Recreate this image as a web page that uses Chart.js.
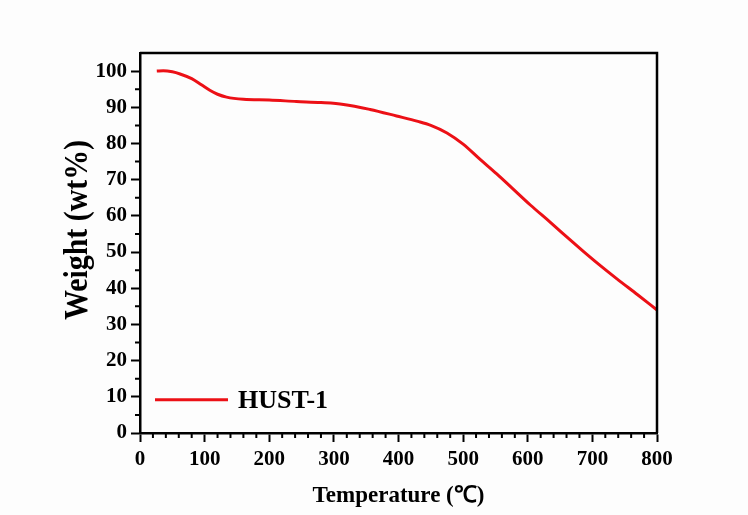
<!DOCTYPE html>
<html>
<head>
<meta charset="utf-8">
<script src="https://cdn.jsdelivr.net/npm/chart.js@4.4.0/dist/chart.umd.min.js"></script>
<style>
    html, body { margin: 0; padding: 0; background: #fdfdfd; }
    #wrap { width: 748px; height: 515px; }
</style>
</head>
<body>
<div id="wrap"><canvas id="tga-chart" width="748" height="515"></canvas></div>
<script>
// TGA curve of HUST-1
const seriesLabel = 'HUST-1';
const temperature = [26, 36, 50, 62, 80, 95, 108, 120, 134, 160, 200, 242, 280, 315, 356, 397, 430, 450, 475, 500, 525, 552, 575, 604, 635, 655, 686, 710, 738, 770, 800];
const weight = [100.0, 100.1, 99.8, 99.2, 97.9, 96.2, 94.7, 93.6, 92.8, 92.2, 92.0, 91.6, 91.3, 90.8, 89.4, 87.6, 86.1, 85.0, 82.9, 79.8, 75.8, 71.6, 67.8, 63.0, 58.2, 55.0, 50.2, 46.6, 42.6, 38.2, 34.0];

const xTicks = [0, 100, 200, 300, 400, 500, 600, 700, 800];
const yTicks = [0, 10, 20, 30, 40, 50, 60, 70, 80, 90, 100];
const yTitle = 'Weight (wt%)';

const serif = "'Liberation Serif', 'Times New Roman', serif";
const lineColor = '#ec1016';

/**
 * Draws the box frame, minor ticks, y title and the legend inside the plot
 */
const framePlugin = {
    id: 'frame',
    afterDraw(chart) {
        const ctx = chart.ctx;
        const area = chart.chartArea;
        const x = chart.scales.x;
        const y = chart.scales.y;

        ctx.save();
        ctx.strokeStyle = '#000';
        ctx.lineWidth = 2.5;

        // top and right side of the box
        ctx.beginPath();
        ctx.moveTo(area.left, area.top);
        ctx.lineTo(area.right, area.top);
        ctx.lineTo(area.right, area.bottom);
        ctx.stroke();

        // minor ticks
        ctx.lineWidth = 2;
        ctx.beginPath();
        for (let v = 20; v < 800; v += 20) {
            if (v % 100 === 0) continue;
            const px = x.getPixelForValue(v);
            ctx.moveTo(px, area.bottom);
            ctx.lineTo(px, area.bottom + 5);
        }
        for (let v = 5; v < 105; v += 10) {
            const py = y.getPixelForValue(v);
            ctx.moveTo(area.left, py);
            ctx.lineTo(area.left - 5, py);
        }
        ctx.stroke();

        // y axis title (slightly condensed like the original)
        ctx.fillStyle = '#000';
        ctx.font = "bold 34px " + serif;
        ctx.textAlign = 'center';
        ctx.textBaseline = 'middle';
        const w = ctx.measureText(yTitle).width;
        ctx.save();
        ctx.translate(78, 230);
        ctx.rotate(-Math.PI / 2);
        ctx.scale(180 / w, 1);
        ctx.fillText(yTitle, 0, 0);
        ctx.restore();

        // legend
        const ly = y.getPixelForValue(9.2);
        ctx.strokeStyle = lineColor;
        ctx.lineWidth = 3;
        ctx.beginPath();
        ctx.moveTo(area.left + 15, ly);
        ctx.lineTo(area.left + 88, ly);
        ctx.stroke();
        ctx.font = "bold 26px " + serif;
        ctx.textAlign = 'left';
        ctx.fillText(seriesLabel, area.left + 98, ly + 2);
        ctx.restore();
    }
};

new Chart(document.getElementById('tga-chart'), {
    type: 'line',
    data: {
        datasets: [{
            label: seriesLabel,
            data: temperature.map((t, i) => ({ x: t, y: weight[i] })),
            borderColor: lineColor,
            borderWidth: 3,
            pointRadius: 0,
            fill: false,
            cubicInterpolationMode: 'monotone'
        }]
    },
    options: {
        responsive: false,
        animation: false,
        layout: {
            padding: { top: 53, right: 91, left: 0, bottom: 0 }
        },
        plugins: {
            legend: { display: false },
            tooltip: { enabled: false }
        },
        scales: {
            x: {
                type: 'linear',
                min: 0,
                max: 800,
                afterFit: function(scale) { scale.height = 82; },
                afterBuildTicks: function(scale) {
                    scale.ticks = xTicks.map(v => ({ value: v }));
                },
                grid: {
                    drawOnChartArea: false,
                    drawTicks: true,
                    tickLength: 9,
                    tickWidth: 2,
                    tickColor: '#000'
                },
                border: { color: '#000', width: 2.5 },
                ticks: {
                    color: '#000',
                    padding: 5,
                    maxRotation: 0,
                    font: { family: serif, size: 21, weight: 'bold' }
                },
                title: {
                    display: true,
                    text: 'Temperature (℃)',
                    color: '#000',
                    padding: { top: 0, bottom: 5 },
                    font: { family: serif, size: 23, weight: 'bold' }
                }
            },
            y: {
                type: 'linear',
                min: 0,
                max: 105,
                afterFit: function(scale) { scale.width = 140; },
                afterBuildTicks: function(scale) {
                    scale.ticks = yTicks.map(v => ({ value: v }));
                },
                grid: {
                    drawOnChartArea: false,
                    drawTicks: true,
                    tickLength: 9,
                    tickWidth: 2,
                    tickColor: '#000'
                },
                border: { color: '#000', width: 2.5 },
                ticks: {
                    color: '#000',
                    padding: 4,
                    font: { family: serif, size: 21, weight: 'bold' }
                }
            }
        }
    },
    plugins: [framePlugin]
});
</script>
</body>
</html>
